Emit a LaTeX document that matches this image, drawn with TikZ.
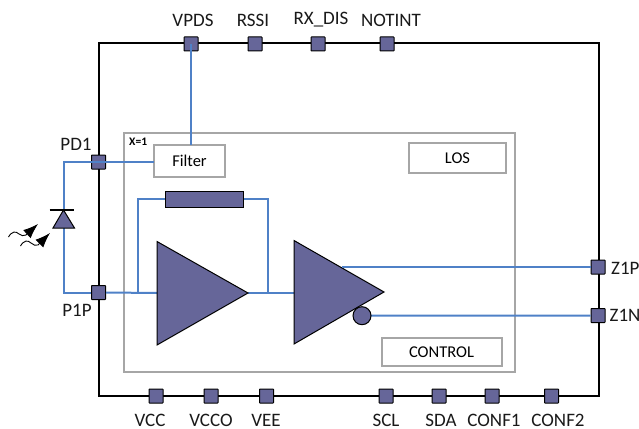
\documentclass[tikz,border=0pt]{standalone}
\usepackage{fontspec}
\setmainfont{Carlito}
\usetikzlibrary{arrows.meta,shapes.geometric}
\definecolor{pinfill}{HTML}{666699}
\definecolor{wire}{HTML}{4F81C7}
\definecolor{boxgray}{HTML}{A6A6A6}
\tikzset{
  pin box/.style={draw=black,fill=pinfill,line width=1pt,minimum size=14pt,inner sep=0pt,rounded corners=0.5pt},
  plabel/.style={font=\fontsize{19}{21}\selectfont,inner sep=0pt,text=black!90},
  blockbox/.style={draw=boxgray,line width=2pt,fill=white,inner sep=0pt,outer sep=0pt,font=\fontsize{16.5}{18}\selectfont},
  wireline/.style={draw=wire,line width=2pt},
  solid part/.style={draw=black,fill=pinfill,line width=1pt,line join=miter},
  wave/.style={draw=black,line width=0.9pt},
  lightray/.style={draw=black,line width=0.9pt,-{Latex[length=15pt,width=11pt]}}
}
\begin{document}
\begin{tikzpicture}[x=1pt,y=-1pt]
\useasboundingbox (0,0) rectangle (639,428);
% outer and inner frames
\node[draw=black,line width=2pt,outer sep=0pt,minimum width=500pt,minimum height=352.5pt,inner sep=0pt] (chip) at (348.5,219.5) {};
\node[draw=boxgray,line width=2pt,outer sep=0pt,minimum width=391pt,minimum height=239pt,inner sep=0pt] (core) at (319.5,252.5) {};
\node[font=\fontsize{11.5}{12}\selectfont\bfseries,inner sep=0pt,anchor=west] (xone) at (129,142) {X=1};
% blocks
\node[blockbox,minimum width=71pt,minimum height=32pt] (filter) at (189.5,161) {Filter};
\node[blockbox,minimum width=97pt,minimum height=30pt] (los) at (457.5,158) {LOS};
\node[blockbox,minimum width=120pt,minimum height=27.5pt] (control) at (441.5,352) {CONTROL};
\node[solid part,minimum width=78.5pt,minimum height=16pt,inner sep=0pt] (fb) at (204.3,199) {};
% coordinates
\coordinate (a1in) at (157,293);
\coordinate (a1out) at (248,293);
\coordinate (a2in) at (294,293);
\coordinate (a2p) at (342,267);
\coordinate (bub) at (362,315.7);
\coordinate (ja) at (138,293);
\coordinate (jb) at (268,293);
\coordinate (dtop) at (63.5,210);
\coordinate (dbot) at (63.5,228);
% pins on frame
\node[pin box] (vpds) at (191,44) {};
\node[pin box] (rssi) at (255,44) {};
\node[pin box] (rxdis) at (318,44) {};
\node[pin box] (notint) at (387,44) {};
\node[pin box] (pd1) at (98.5,162) {};
\node[pin box] (p1p) at (98.5,292.5) {};
\node[pin box] (z1p) at (598,267) {};
\node[pin box] (z1n) at (598,315.5) {};
\node[pin box] (vcc) at (156,396) {};
\node[pin box] (vcco) at (211,396) {};
\node[pin box] (vee) at (266.5,396) {};
\node[pin box] (scl) at (386,396) {};
\node[pin box] (sda) at (439,396) {};
\node[pin box] (conf1) at (492,396) {};
\node[pin box] (conf2) at (551.5,396) {};
% wires
\draw[wireline] (vpds.center) -- (vpds.center |- filter.north);
\draw[wireline] (pd1.center) -- (filter.west |- pd1.center);
\draw[wireline] (pd1.center) -| (dtop);
\draw[wireline] (dbot) |- (p1p.west);
\draw[wireline] (p1p.east) -- (a1in);
\draw[wireline] (ja) |- (fb.west);
\draw[wireline] (fb.east) -| (jb);
\draw[wireline] (a1out) -- (a2in);
\draw[wireline] (a2p) -- (z1p.west);
\draw[wireline] (bub) -- (z1n.west);
% amplifiers
\draw[solid part] (157,241.5) -- (a1out) -- (157,345) -- cycle;
\draw[solid part] (294,240.5) -- (384,292) -- (294,344) -- cycle;
\draw[wireline] (a2p) -- (355,267);
\node[solid part,circle,minimum size=18pt,inner sep=0pt] (bubble) at (bub) {};
% diode
\draw[solid part] (dtop) -- (74.5,228) -- (53,228) -- cycle;
\draw[draw=black,line width=1.3pt] (49.5,210) -- (74,210);
% light
\coordinate (w1a) at (8.5,237);
\coordinate (w1b) at (26,235);
\coordinate (r1) at (38,224);
\coordinate (w2a) at (20.5,246);
\coordinate (w2b) at (38,245);
\coordinate (r2) at (50,233);
\draw[wave] (w1a) .. controls (12,231) and (16,231) .. (19,234) .. controls (21,236) and (24,236) .. (w1b);
\draw[wave] (w2a) .. controls (24,240) and (28,240) .. (31,243) .. controls (33,245) and (36,246) .. (w2b);
\draw[lightray] (w1b) -- (r1);
\draw[lightray] (w2b) -- (r2);
% labels
\node[plabel] (lvpds) at (193,20) {VPDS};
\node[plabel] (lrssi) at (253,20) {RSSI};
\node[plabel] (lrx) at (321,20) {RX\_DIS};
\node[plabel] (lnot) at (391,20) {NOTINT};
\node[plabel] (lpd) at (76,144) {PD1};
\node[plabel] (lp1) at (77,310) {P1P};
\node[plabel,anchor=west] (lz1p) at (611,268) {Z1P};
\node[plabel,anchor=west] (lz1n) at (609.5,315.5) {Z1N};
\node[plabel] (lvcc) at (150,420.5) {VCC};
\node[plabel] (lvcco) at (211,420.5) {VCCO};
\node[plabel] (lvee) at (266,420.5) {VEE};
\node[plabel] (lscl) at (386,420.5) {SCL};
\node[plabel] (lsda) at (441,420.5) {SDA};
\node[plabel] (lc1) at (494,420.5) {CONF1};
\node[plabel] (lc2) at (558,420.5) {CONF2};
\end{tikzpicture}
\end{document}
